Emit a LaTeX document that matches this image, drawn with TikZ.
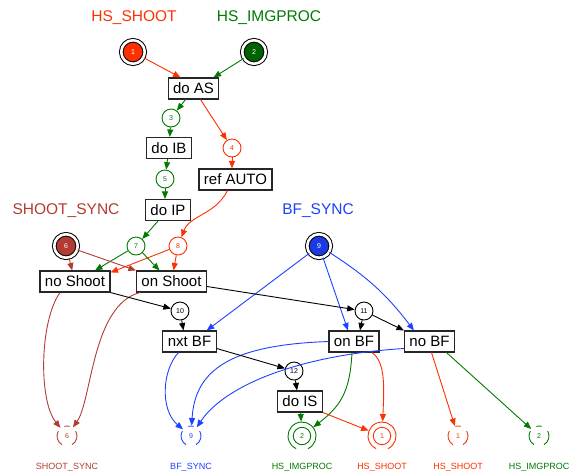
\documentclass[tikz,border=0pt]{standalone}
\usepackage{fontspec}
\setmainfont{Liberation Sans}
\usetikzlibrary{arrows.meta,positioning}
\definecolor{hsred}{RGB}{255,48,0}
\definecolor{hsgreen}{RGB}{0,122,0}
\definecolor{syncbrown}{RGB}{178,60,50}
\definecolor{bfblue}{RGB}{30,64,255}

\begin{document}
\begin{tikzpicture}[x=1pt,y=-1pt,>={Triangle[length=7.5pt,width=6pt]},line width=0.9pt,
  trans/.style={rectangle,draw=black!85,line width=1.1pt,fill=white,minimum height=21pt,
    inner xsep=5pt,inner ysep=0pt,font=\fontsize{15}{15}\selectfont},
  place/.style={circle,draw=#1,text=#1,fill=white,line width=0.9pt,minimum size=18pt,
    inner sep=0pt,font=\fontsize{7}{7}\selectfont},
  place/.default=black,
  src/.style={circle,draw=black,line width=1pt,double=white,double distance=2.6pt,fill=#1,
    minimum size=23.5pt,inner sep=0pt,text=white,font=\fontsize{7}{7}\selectfont},
  sink/.style={circle,minimum size=#1,inner sep=0pt,font=\fontsize{7}{7}\selectfont},
  title/.style={text=#1,font=\fontsize{15.5}{15.5}\selectfont},
  lbl/.style={text=#1,font=\fontsize{9}{9}\selectfont}]
  \useasboundingbox (0,0) rectangle (575,475);

  \node[title=hsred] (tShoot) at (134,18) {HS\_SHOOT};
  \node[title=hsgreen] (tImg) at (269,18) {HS\_IMGPROC};
  \node[title=syncbrown] (tSync) at (66,211) {SHOOT\_SYNC};
  \node[title=bfblue] (tBF) at (318,211) {BF\_SYNC};

  \node[src=hsred] (p1) at (133,52) {1};
  \node[src=hsgreen!80!black] (p2) at (254,52) {2};
  \node[src=syncbrown] (p6) at (66,246) {6};
  \node[src=bfblue!90!black] (p9) at (319,246) {9};

  \node[trans] (dAS) at (193.5,88.5) {do AS};
  \node[trans] (dIB) at (169,148) {do IB};
  \node[trans] (rAUTO) at (235.5,179.5) {ref AUTO};
  \node[trans] (dIP) at (168,210) {do IP};
  \node[trans] (noShoot) at (75,281.5) {no Shoot};
  \node[trans] (onShoot) at (171.5,281.5) {on Shoot};
  \node[trans] (nxtBF) at (189.5,341.5) {nxt BF};
  \node[trans] (onBF) at (354,341.5) {on BF};
  \node[trans] (noBF) at (429.5,341.5) {no BF};
  \node[trans] (dIS) at (300,401.5) {do IS};

  \node[place=hsgreen] (p3) at (171,118) {3};
  \node[place=hsred] (p4) at (232,148) {4};
  \node[place=hsgreen] (p5) at (165,179) {5};
  \node[place=hsgreen] (p7) at (136,246) {7};
  \node[place=hsred] (p8) at (178,246) {8};
  \node[place] (p10) at (180,311) {10};
  \node[place] (p11) at (364,311) {11};
  \node[place] (p12) at (294,371) {12};

  \node[sink=20pt,text=syncbrown] (q6) at (67,436) {6};
  \node[sink=20pt,text=bfblue] (q9) at (191,436) {9};
  \node[sink=28pt,text=hsgreen] (q2a) at (302,436) {2};
  \node[sink=28pt,text=hsred] (q1a) at (382,436) {1};
  \node[sink=20pt,text=hsred] (q1b) at (458,436) {1};
  \node[sink=20pt,text=hsgreen] (q2b) at (539,436) {2};
  \foreach \n/\c in {q2a/hsgreen,q1a/hsred} {
    \draw[\c] (\n.center) circle[radius=8.7pt];
    \draw[\c] (\n.center) ++(-65:14pt) arc[start angle=-65,end angle=245,radius=14pt];
  }
  \foreach \n/\c in {q6/syncbrown,q9/bfblue,q1b/hsred,q2b/hsgreen} {
    \draw[\c] (\n.center) ++(75:10pt) arc[start angle=75,end angle=105,radius=10pt];
    \draw[\c] (\n.center) ++(150:10pt) arc[start angle=150,end angle=240,radius=10pt];
    \draw[\c] (\n.center) ++(-60:10pt) arc[start angle=-60,end angle=30,radius=10pt];
  }

  \node[lbl=syncbrown] (l6) at (67,467) {SHOOT\_SYNC};
  \node[lbl=bfblue] (l9) at (191,467) {BF\_SYNC};
  \node[lbl=hsgreen] (l2a) at (302,467) {HS\_IMGPROC};
  \node[lbl=hsred] (l1a) at (382,467) {HS\_SHOOT};
  \node[lbl=hsred] (l1b) at (458,467) {HS\_SHOOT};
  \node[lbl=hsgreen] (l2b) at (539,467) {HS\_IMGPROC};

  % HS_SHOOT
  \draw[->,hsred] (p1) -- ([xshift=-13pt]dAS.north);
  \draw[->,hsred] ([xshift=7pt]dAS.south) -- (p4);
  \draw[->,hsred] (p4) -- (p4 |- rAUTO.north);
  \draw[->,hsred] ([xshift=-8pt]rAUTO.south) .. controls (215,215) and (190,215) .. (p8);
  \draw[->,hsred] (p8) -- ([yshift=-2pt]noShoot.north east);
  \draw[->,hsred] (p8) -- ([xshift=2pt]onShoot.north);
  \draw[->,hsred] (dIS.south east) -- (q1a);
  \draw[->,hsred] ([xshift=18pt]onBF.south) .. controls (386,362) and (384,390) .. (q1a);
  \draw[->,hsred] ([xshift=2pt]noBF.south) -- (q1b);
  % HS_IMGPROC
  \draw[->,hsgreen] (p2) -- ([xshift=20pt]dAS.north);
  \draw[->,hsgreen] ([xshift=-8pt]dAS.south) -- (p3);
  \draw[->,hsgreen] (p3) -- (dIB);
  \draw[->,hsgreen] (dIB) -- (p5);
  \draw[->,hsgreen] (p5) -- (p5 |- dIP.north);
  \draw[->,hsgreen] ([xshift=-10pt]dIP.south) -- (p7);
  \draw[->,hsgreen] (p7) -- ([xshift=20pt]noShoot.north);
  \draw[->,hsgreen] (p7) -- ([xshift=-12pt]onShoot.north);
  \draw[->,hsgreen] (dIS) -- (q2a);
  \draw[->,hsgreen] ([xshift=-2pt]onBF.south) .. controls (350,390) and (342,405) .. (q2a);
  \draw[->,hsgreen] ([xshift=17pt]noBF.south) -- (q2b);
  % SHOOT_SYNC
  \draw[->,syncbrown] (p6) -- (noShoot);
  \draw[->,syncbrown] (p6) -- (onShoot.north west);
  \draw[->,syncbrown] ([xshift=-15pt]noShoot.south) .. controls (40,320) and (38,400) .. (q6);
  \draw[->,syncbrown] ([xshift=4pt]onShoot.south west) .. controls (92,305) and (92,400) .. (q6);
  % BF_SYNC
  \draw[->,bfblue] (p9) -- ([xshift=-10pt]nxtBF.north east);
  \draw[->,bfblue] (p9) -- ([xshift=-6pt]onBF.north);
  \draw[->,bfblue] (p9) to[bend left=10] ([xshift=10pt]noBF.north west);
  \draw[->,bfblue] ([xshift=-11pt]nxtBF.south) .. controls (162,370) and (160,410) .. (q9);
  \draw[->,bfblue] (onBF.west) .. controls (230,345) and (195,370) .. (q9);
  \draw[->,bfblue] ([yshift=-7pt]noBF.west) .. controls (300,355) and (225,385) .. (q9);
  % control flow
  \draw[->] (noShoot.south east) -- (p10);
  \draw[->] ([yshift=-5pt]onShoot.east) -- (p11);
  \draw[->] (p10) -- ([xshift=-6pt]nxtBF.north);
  \draw[->] (p11) -- ([xshift=6pt]onBF.north);
  \draw[->] (p11) -- (noBF.north west);
  \draw[->] ([yshift=-7pt]nxtBF.east) -- (p12);
  \draw[->] (p12) -- ([xshift=-3pt]dIS.north);
\end{tikzpicture}
\end{document}
